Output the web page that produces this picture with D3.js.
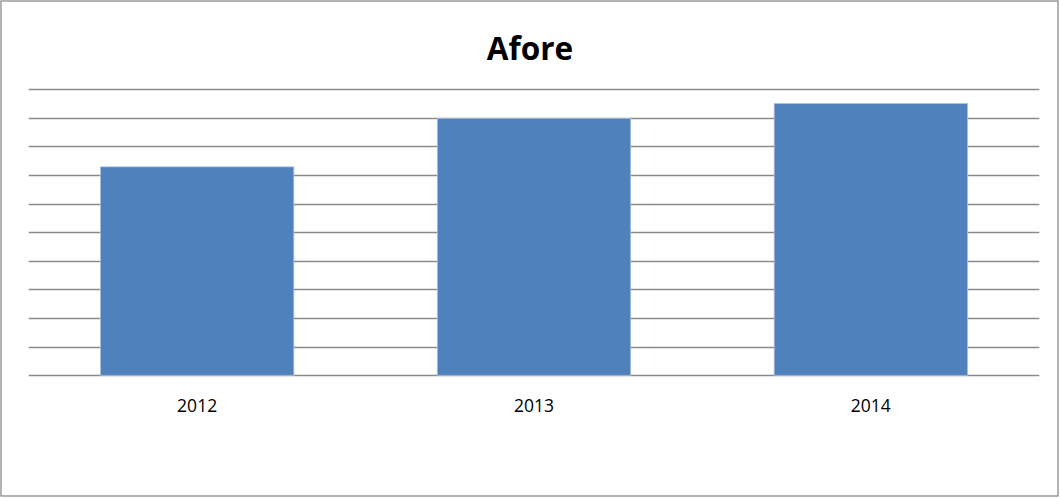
<!DOCTYPE html>
<html><head><meta charset="utf-8">
<script src="https://cdn.jsdelivr.net/npm/d3@7"></script>
<style>html,body{margin:0;padding:0;background:#fff;}svg{display:block;}</style>
</head><body>
<script>
const title = "Afore";
const categories = ["2012", "2013", "2014"];
const values = [7.28, 8.97, 9.49];
const yTicks = [0,1,2,3,4,5,6,7,8,9,10];

(function () {
const W = 1060, H = 498;
const svg = d3.select("body").append("svg").attr("width", W).attr("height", H);
svg.append("rect").attr("x", 1).attr("y", 1).attr("width", W - 3).attr("height", H - 3)
  .attr("fill", "#fff").attr("stroke", "#8c8c8c").attr("stroke-width", 1.3);

const pLeft = 28.7, pRight = 1039.3, pTop = 89, pBottom = 375.3;
const x = d3.scaleBand().domain(categories).range([pLeft, pRight]).paddingInner(0.426).paddingOuter(0.213);
const y = d3.scaleLinear().domain([0, 10]).range([pBottom, pTop]);

svg.append("g").selectAll("line").data(yTicks).join("line")
  .attr("x1", pLeft).attr("x2", pRight)
  .attr("y1", d => Math.round(y(d)) + 0.5).attr("y2", d => Math.round(y(d)) + 0.5)
  .attr("stroke", "#8a8a8a").attr("stroke-width", 1.4);

svg.append("g").selectAll("rect").data(values).join("rect")
  .attr("x", (d, i) => x(categories[i]))
  .attr("width", x.bandwidth())
  .attr("y", d => y(d))
  .attr("height", d => y(0) - y(d))
  .attr("fill", "#4F81BD").attr("stroke", "#a9c0de").attr("stroke-width", 0.8);

const xAxis = d3.axisBottom(x).tickSize(0).tickPadding(0);
const gx = svg.append("g").attr("transform", `translate(0,${pBottom})`).call(xAxis);
gx.select(".domain").remove();
gx.selectAll("text").attr("dy", 0).attr("y", 36.5)
  .attr("font-family", "Open Sans, Liberation Sans, sans-serif").attr("font-size", 17.5).attr("fill", "#000");

svg.append("text").attr("x", 530).attr("y", 59.5).attr("text-anchor", "middle")
  .attr("font-family", "Open Sans, Liberation Sans, sans-serif").attr("font-weight", "bold")
  .attr("font-size", 31.5).attr("fill", "#000").text(title);
})();
</script>
</body></html>
